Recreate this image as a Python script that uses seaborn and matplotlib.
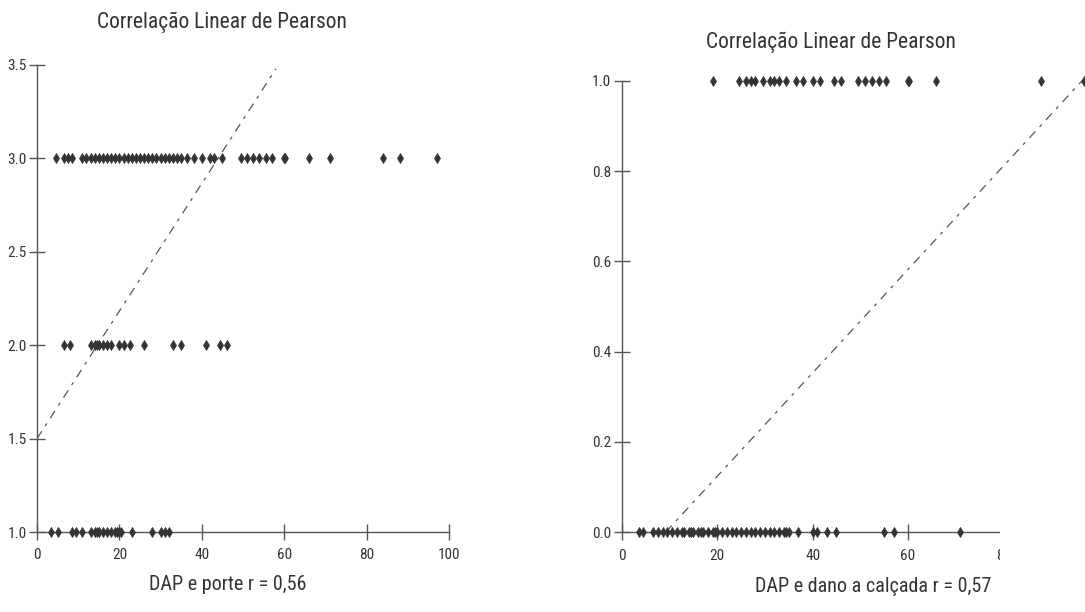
import numpy as np
import pandas as pd
import matplotlib
matplotlib.use("Agg")
import matplotlib.pyplot as plt
from matplotlib import font_manager
from matplotlib.patches import Rectangle
import seaborn as sns

# ---------------- data ----------------
titles = ["Correlação Linear de Pearson", "Correlação Linear de Pearson"]
xlabels = ["DAP e porte r = 0,56", "DAP e dano a calçada r = 0,57"]

# left: DAP vs porte
porte3_x = [4.5, 6.5, 7.5, 8.5, 11, 12, 13, 14, 15, 16, 17, 18, 19, 20, 21, 22, 23,
            24, 25, 26, 27, 28, 29, 30, 31, 32, 33, 34, 35, 36.5, 38, 40, 42, 43, 45,
            49.5, 51, 52.5, 54, 55.5, 57, 60, 60.3, 66, 71, 84, 88, 97]
porte2_x = [6.5, 8, 13, 14, 14.5, 15, 16, 17, 18, 20, 21, 22.5, 26, 33, 35, 41, 44.5, 46]
porte1_x = [3.5, 5, 8.5, 9.5, 11, 13, 14, 14.5, 15, 16, 17, 18, 19, 19.5, 20, 20.5,
            23, 28, 30, 31, 32]
fit_left_x = [0, 58]
fit_left_y = [1.5, 3.48]

# right: DAP vs dano a calcada
dano1_x = [19, 24.5, 26, 27, 28, 29.5, 31, 32, 33, 34.5, 36.5, 38, 40, 41.5, 44.5, 46,
           49.5, 51, 52.5, 54, 55.5, 60, 60.3, 66, 88, 97]
dano0_x = [3.5, 4.5, 6.5, 7.5, 8.5, 9.5, 10.5, 11.5, 12.5, 13, 14, 14.5, 15, 16, 16.5,
           17, 18, 19, 19.5, 20, 21, 22, 23, 24, 25, 26, 27, 28, 29, 30, 31, 32, 33,
           34, 34.5, 35, 37, 40, 41, 43, 45, 55, 57, 71]
fit_right_x = [9.2, 100]
fit_right_y = [0.0, 1.04]

left_df = pd.DataFrame({
    "DAP": porte3_x + porte2_x + porte1_x,
    "porte": [3] * len(porte3_x) + [2] * len(porte2_x) + [1] * len(porte1_x),
})
right_df = pd.DataFrame({
    "DAP": dano1_x + dano0_x,
    "dano": [1] * len(dano1_x) + [0] * len(dano0_x),
})

# ---------------- style ----------------
sns.set_theme(style="white")
avail = {f.name for f in font_manager.fontManager.ttflist}
fam = [f for f in ["Liberation Sans Narrow", "Roboto Condensed", "Liberation Sans"] if f in avail]
plt.rcParams["font.family"] = fam + ["DejaVu Sans"]

TXT = "#333333"
AX = "#555555"
PT = "#333333"

fig = plt.figure(figsize=(10.85, 6.12), dpi=100)
W, H = 1085, 612

def px_axes(x0, x1, y_top, y_bot):
    return fig.add_axes([x0 / W, (H - y_bot) / H, (x1 - x0) / W, (y_bot - y_top) / H])

ax1 = px_axes(37, 449, 65, 532)
ax2 = px_axes(622, 1098.5, 81, 532)

dash = (0, (7, 5, 2.5, 5))

for ax, df, ycol, fx, fy in [(ax1, left_df, "porte", fit_left_x, fit_left_y),
                             (ax2, right_df, "dano", fit_right_x, fit_right_y)]:
    sns.scatterplot(data=df, x="DAP", y=ycol, ax=ax, marker="d", s=26,
                    color=PT, edgecolor=PT, linewidth=0.5, clip_on=False, zorder=3)
    ax.plot(fx, fy, linestyle=dash, color=AX, lw=0.9, zorder=2)
    ax.set_xlabel("")
    ax.set_ylabel("")
    for s in ["top", "right"]:
        ax.spines[s].set_visible(False)
    for s in ["left", "bottom"]:
        ax.spines[s].set_color(AX)
        ax.spines[s].set_linewidth(1.0)
    ax.set_facecolor("none")

ax1.set_xlim(0, 100)
ax1.set_ylim(1.0, 3.5)
ax1.set_xticks([0, 20, 40, 60, 80, 100])
ax1.set_yticks([1.0, 1.5, 2.0, 2.5, 3.0, 3.5])
ax1.set_xticklabels(["0", "20", "40", "60", "80", "100"])
ax1.set_yticklabels(["1.0", "1.5", "2.0", "2.5", "3.0", "3.5"])
ax1.tick_params(bottom=True, left=True, direction="inout", length=11, width=1.0,
                color=AX, labelsize=11, labelcolor=TXT, pad=2)
ax1.tick_params(axis="x", pad=6)

ax2.set_xlim(0, 100)
ax2.set_ylim(0.0, 1.0)
ax2.set_xticks([0, 20, 40, 60, 80])
ax2.set_yticks([0.0, 0.2, 0.4, 0.6, 0.8, 1.0])
ax2.set_xticklabels(["0", "20", "40", "60", "80"])
ax2.set_yticklabels(["0.0", "0.2", "0.4", "0.6", "0.8", "1.0"])
ax2.tick_params(bottom=True, left=True, direction="inout", length=12, width=1.0,
                color=AX, labelsize=11, labelcolor=TXT, pad=2)
ax2.tick_params(axis="x", pad=6)

# titles and axis captions
fig.text(222 / W, 1 - 22 / H, titles[0], ha="center", va="center", fontsize=15.5, color=TXT)
fig.text(831 / W, 1 - 42 / H, titles[1], ha="center", va="center", fontsize=15.5, color=TXT)
fig.text(228 / W, 1 - 585 / H, xlabels[0], ha="center", va="center", fontsize=14.5, color=TXT)
fig.text(873 / W, 1 - 586 / H, xlabels[1], ha="center", va="center", fontsize=14.5, color=TXT)

# white patch covering bottom right corner as in the source image
fig.add_artist(Rectangle((999.5 / W, 0), 86 / W, (H - 515) / H, transform=fig.transFigure,
                         facecolor="white", edgecolor="none", zorder=10))

fig.savefig("out.png", dpi=100, facecolor="white")
